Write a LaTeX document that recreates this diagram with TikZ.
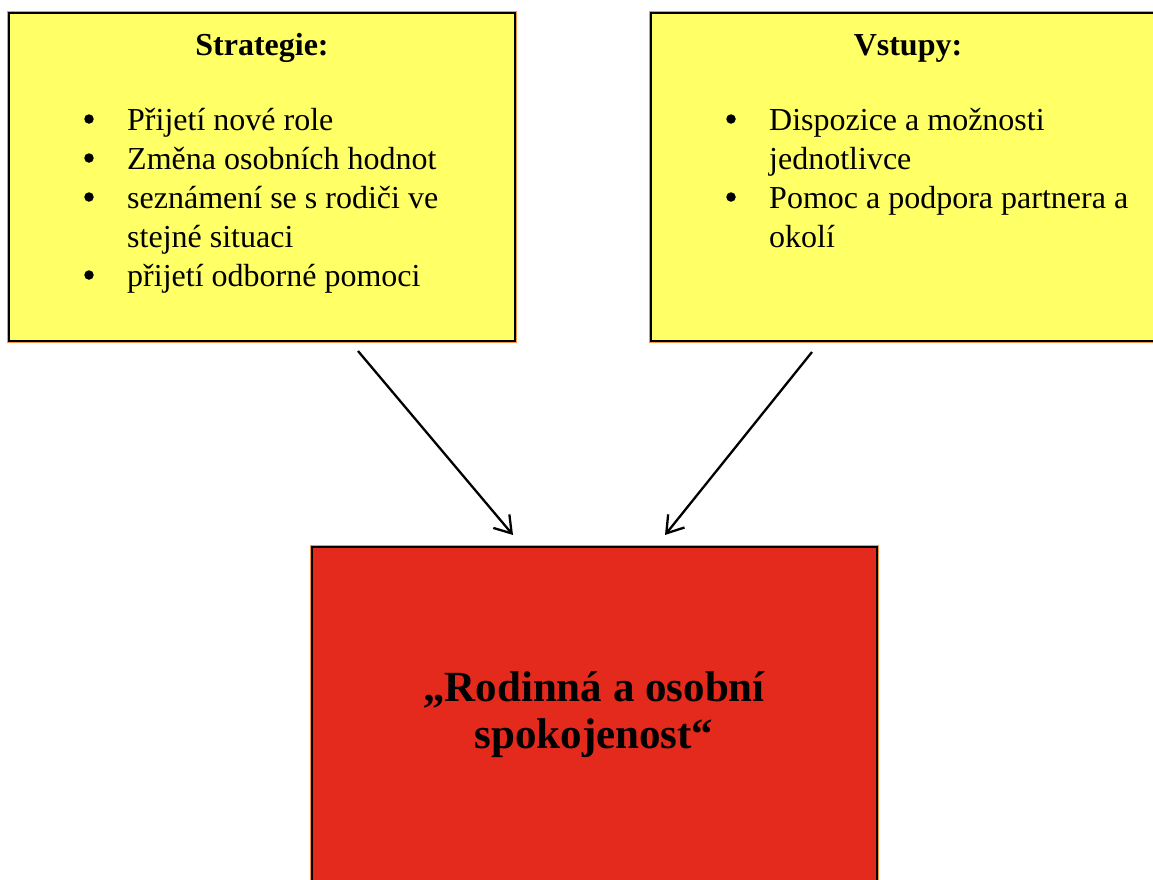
\documentclass[tikz,border=0pt]{standalone}
\usepackage{fontspec}
\setmainfont{Liberation Serif}
\usetikzlibrary{arrows.meta}
\definecolor{boxyellow}{HTML}{FFFF66}
\definecolor{boxred}{HTML}{E42A1C}
\definecolor{rimorange}{HTML}{F79646}
\tikzset{
  panel/.style={rectangle, draw=black, line width=1.2pt, inner sep=0pt,
    preaction={draw=rimorange, line width=3.2pt}},
  txt/.style={anchor=base west, inner sep=0pt, font=\fontsize{32}{39}\selectfont},
  ttl/.style={anchor=base, inner sep=0pt, font=\fontsize{32}{39}\selectfont\bfseries},
  big/.style={anchor=base, inner sep=0pt, font=\fontsize{43}{47}\selectfont\bfseries},
  bul/.style={circle, fill=black, inner sep=0pt, minimum size=9.5pt},
  arr/.style={-{Straight Barb[length=16pt,width=21pt,line width=2.3pt]}, line width=2.3pt}
}
\begin{document}
\begin{tikzpicture}[x=1pt,y=-1pt]
\useasboundingbox (0,0) rectangle (1153,879);
% boxes
\node[panel, fill=boxyellow, minimum width=506pt, minimum height=328pt] (L) at (262,177) {};
\node[panel, fill=boxyellow, minimum width=520pt, minimum height=328pt] (R) at (911,177) {};
\node[panel, fill=boxred, minimum width=565pt, minimum height=360pt] (C) at (594.5,727) {};
% left text
\node[ttl] (Lt) at (262,55) {Strategie:};
\node[bul] (Lb1) at (89,119) {};
\node[txt] (L1) at (127,130) {Přijetí nové role};
\node[bul] (Lb2) at (89,158) {};
\node[txt] (L2) at (127,169) {Změna osobních hodnot};
\node[bul] (Lb3) at (89,197) {};
\node[txt] (L3) at (127,208) {seznámení se s rodiči ve};
\node[txt] (L3b) at (127,247) {stejné situaci};
\node[bul] (Lb4) at (89,275) {};
\node[txt] (L4) at (127,286) {přijetí odborné pomoci};
% right text
\node[ttl] (Rt) at (908,55) {Vstupy:};
\node[bul] (Rb1) at (731,119) {};
\node[txt] (R1) at (769,130) {Dispozice a možnosti};
\node[txt] (R1b) at (769,169) {jednotlivce};
\node[bul] (Rb2) at (731,197) {};
\node[txt] (R2) at (769,208) {Pomoc a podpora partnera a};
\node[txt] (R2b) at (769,247) {okolí};
% centre text
\node[big] (C1) at (594,701) {„Rodinná a osobní};
\node[big] (C2) at (594,748) {spokojenost“};
% arrows
\coordinate (a1s) at (358,351);
\coordinate (a1e) at (513,535);
\coordinate (a2s) at (812,352);
\coordinate (a2e) at (665,535);
\draw[arr] (a1s) -- (a1e);
\draw[arr] (a2s) -- (a2e);
\end{tikzpicture}
\end{document}
